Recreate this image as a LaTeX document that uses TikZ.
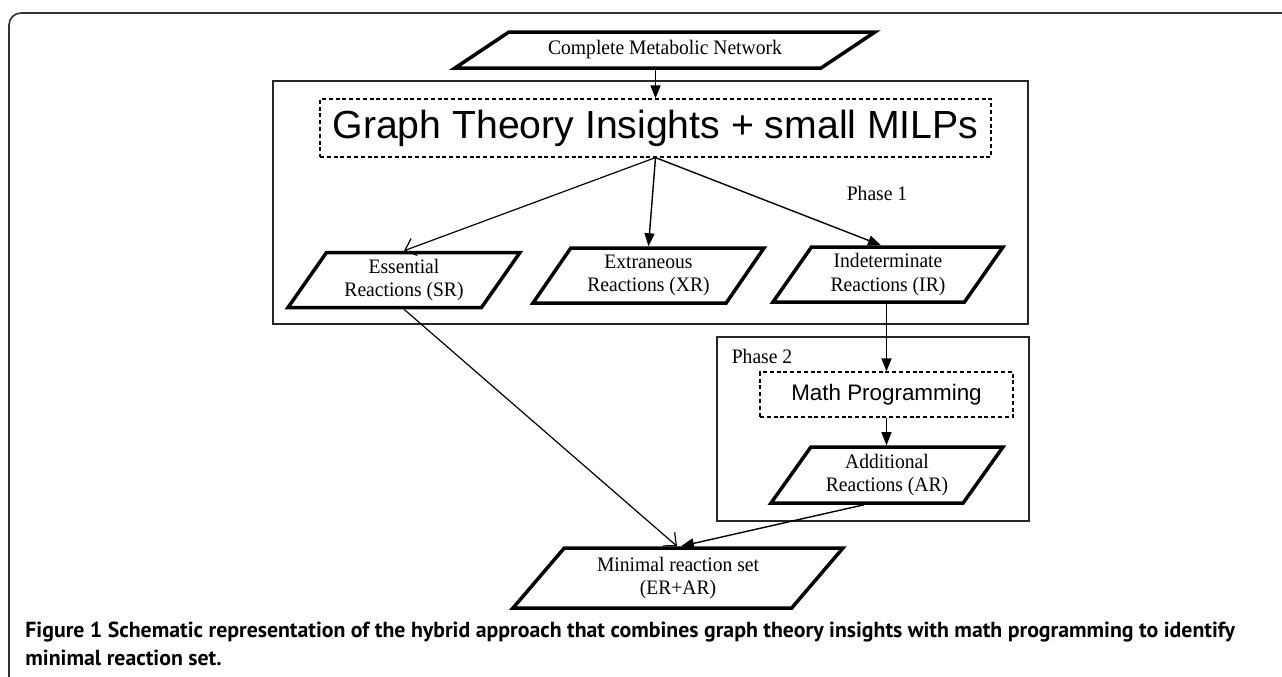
\documentclass[tikz,border=0pt]{standalone}
\usepackage{fontspec}
\setmainfont{Liberation Serif}[FakeStretch=0.95]
\newfontfamily\helv{Liberation Sans}
\newfontfamily\capfont{PT Sans}
\usepackage{tikz}
\usetikzlibrary{positioning,arrows.meta,shapes.geometric}
\tikzset{flecha/.style={line width=0.7pt,-{Triangle[length=6.5pt,width=5pt]}}}
\tikzset{flechab/.style={line width=0.6pt,-{Straight Barb[length=5pt,width=9pt]}}}
\tikzset{datos/.style={draw,trapezium,trapezium stretches body,line width=1.75pt,
  inner sep=1pt,align=center,font=\fontsize{10.3}{11.6}\selectfont}}
\tikzset{caja/.style={draw,dash pattern=on 2pt off 1.4pt,line width=0.6pt,inner sep=0pt}}
\tikzset{fase/.style={draw,line width=0.7pt,color=black!85}}
\definecolor{marco}{RGB}{50,50,50}

\begin{document}
\begin{tikzpicture}[x=0.5pt,y=-0.5pt]
            \useasboundingbox (0,0) rectangle (1282,676);
            \draw[marco,line width=0.8pt,rounded corners=6pt] (9,690) -- (9,13) -- (1300,13);

            % fases
            \draw[fase] (273,81) rectangle (1028,324);
            \draw[fase] (717,337) rectangle (1029,521);
            \node[font=\fontsize{10.3}{11.6}\selectfont] (f1) at (877,193) {Phase 1};
            \node[font=\fontsize{10.3}{11.6}\selectfont] (f2) at (762,356) {Phase 2};

            \node[datos, trapezium left angle=22.8, trapezium right angle=157.2,
                  minimum height=18pt, minimum width=210pt] (1) at (665,50) {Complete Metabolic Network};
            \node[caja, minimum width=335.5pt, minimum height=29pt,
                  font=\helv\fontsize{19.6}{22}\selectfont] (2) at (655.5,128) {Graph Theory Insights + small MILPs};
            \node[datos, trapezium left angle=50, trapezium right angle=130,
                  minimum height=27.5pt, minimum width=116pt] (3) at (404,280) {Essential\\Reactions (SR)};
            \node[datos, trapezium left angle=50, trapezium right angle=130,
                  minimum height=27.5pt, minimum width=115.5pt] (4) at (648.5,275.5) {Extraneous\\Reactions (XR)};
            \node[datos, trapezium left angle=50, trapezium right angle=130,
                  minimum height=27.5pt, minimum width=115pt] (5) at (888,274.5) {Indeterminate\\Reactions (IR)};
            \node[caja, minimum width=126.5pt, minimum height=22.5pt,
                  font=\helv\fontsize{11.2}{13}\selectfont] (6) at (886.5,394.5) {Math Programming};
            \node[datos, trapezium left angle=49, trapezium right angle=131,
                  minimum height=28pt, minimum width=116pt] (7) at (887,475) {Additional\\Reactions (AR)};
            \node[datos, trapezium left angle=41.8, trapezium right angle=138.2,
                  minimum height=30pt, minimum width=165pt] (8) at (678,578) {Minimal reaction set\\(ER+AR)};

            \draw[flecha] (1.south -| 2.north) -- (2.north);
            \draw[flechab] (2.south) -- (3.north -| 3.center);
            \draw[flecha] (2.south) -- (4.north -| 4.center);
            \draw[flecha] (2.south) -- ([xshift=-3.5pt]5.north -| 5.center);
            \draw[flecha] (5.south -| 6.north) -- (6.north);
            \draw[flecha] (6.south) -- (7.north -| 6.south);
            \draw[flechab] (3.south -| 3.center) -- ([xshift=-0.5pt]8.north -| 8.center);
            \draw[flecha] ([xshift=-11.5pt]7.south -| 7.center) -- ([xshift=1.5pt]8.north -| 8.center);

            \node[anchor=north west, align=left, inner sep=0pt,
                  font=\capfont\bfseries\fontsize{10.9}{14}\selectfont] (9) at (25,622)
                  {Figure 1 Schematic representation of the hybrid approach that combines graph theory insights with math programming to identify\\minimal reaction set.};
        \end{tikzpicture}
\end{document}
